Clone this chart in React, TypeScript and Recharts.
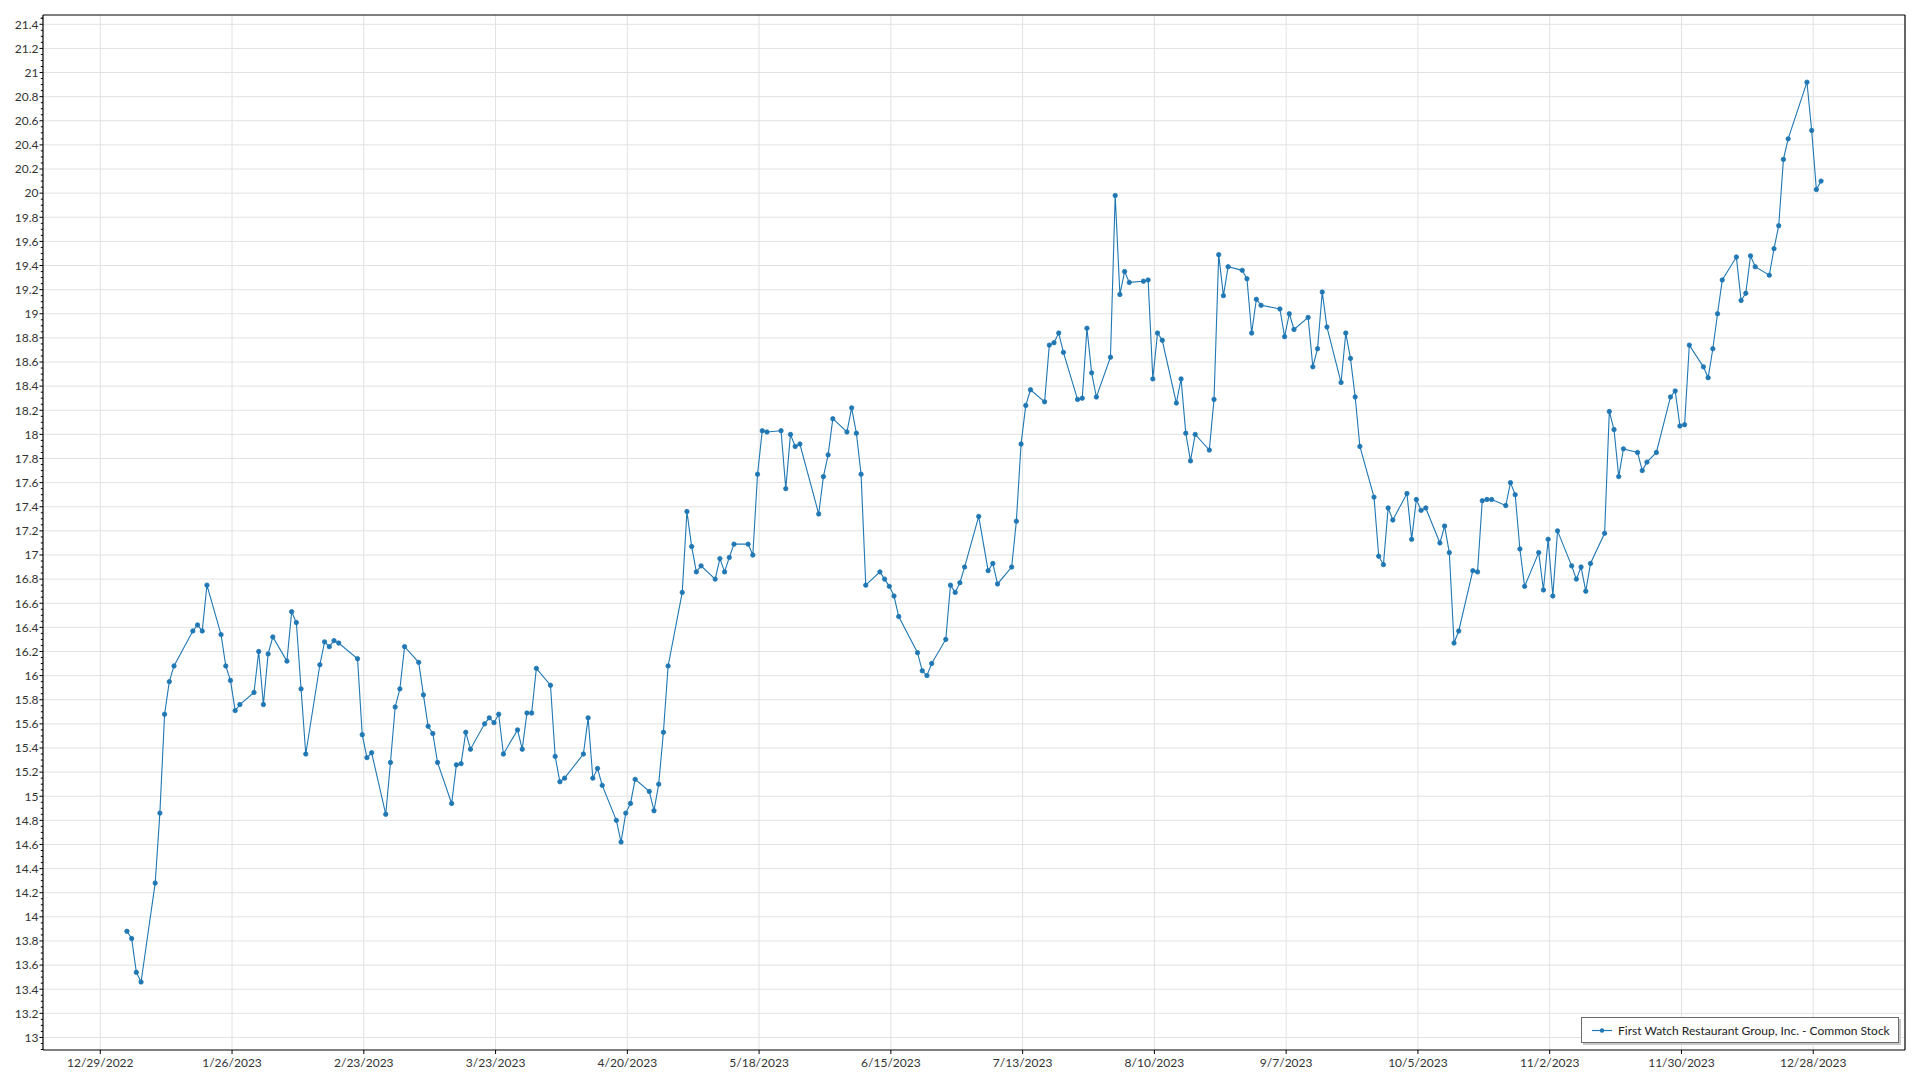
import React from "react";
import { LineChart, Line, XAxis, YAxis, CartesianGrid, ReferenceLine, Legend } from "recharts";

// ---- Data (daily close, 2023) ----
const q1Dates = [
  "01-03","01-04","01-05","01-06","01-09","01-10","01-11","01-12","01-13","01-17","01-18","01-19","01-20",
  "01-23","01-24","01-25","01-26","01-27","01-30","01-31","02-01","02-02","02-03","02-06","02-07","02-08",
  "02-09","02-10","02-13","02-14","02-15","02-16","02-17","02-21","02-22","02-23","02-24","02-27","02-28",
  "03-01","03-02","03-03","03-06","03-07","03-08","03-09","03-10","03-13","03-14","03-15","03-16","03-17",
  "03-20","03-21","03-22","03-23","03-24","03-27","03-28","03-29","03-30","03-31",
];
const q1Closes = [
  13.88,13.82,13.54,13.46,14.28,14.86,15.68,15.95,16.08,16.37,16.42,16.37,16.75,
  16.34,16.08,15.96,15.71,15.76,15.86,16.20,15.76,16.18,16.32,16.12,16.53,16.44,
  15.89,15.35,16.09,16.28,16.24,16.29,16.27,16.14,15.51,15.32,15.36,14.85,15.28,
  15.74,15.89,16.24,16.11,15.84,15.58,15.52,15.28,14.94,15.26,15.27,15.53,15.39,
  15.60,15.65,15.61,15.68,15.35,15.55,15.39,15.69,15.69,16.06,
];
const q2Dates = [
  "04-03","04-04","04-05","04-06","04-10","04-11","04-12","04-13","04-14","04-17","04-18","04-19","04-20",
  "04-21","04-24","04-25","04-26","04-27","04-28","05-01","05-02","05-03","05-04","05-05","05-08","05-09",
  "05-10","05-11","05-12","05-15","05-16","05-17","05-18","05-19","05-22","05-23","05-24","05-25","05-26",
  "05-30","05-31","06-01","06-02","06-05","06-06","06-07","06-08","06-09","06-12","06-13","06-14","06-15",
  "06-16","06-20","06-21","06-22","06-23","06-26","06-27","06-28","06-29","06-30",
];
const q2Closes = [
  15.92,15.33,15.12,15.15,15.35,15.65,15.15,15.23,15.09,14.80,14.62,14.86,14.94,
  15.14,15.04,14.88,15.10,15.53,16.08,16.69,17.36,17.07,16.86,16.91,16.80,16.97,
  16.86,16.98,17.09,17.09,17.00,17.67,18.03,18.02,18.03,17.55,18.00,17.90,17.92,
  17.34,17.65,17.83,18.13,18.02,18.22,18.01,17.67,16.75,16.86,16.80,16.74,16.66,
  16.49,16.19,16.04,16.00,16.10,16.30,16.75,16.69,16.77,16.90,
];
const q3Dates = [
  "07-03","07-05","07-06","07-07","07-10","07-11","07-12","07-13","07-14","07-17","07-18","07-19","07-20",
  "07-21","07-24","07-25","07-26","07-27","07-28","07-31","08-01","08-02","08-03","08-04","08-07","08-08",
  "08-09","08-10","08-11","08-14","08-15","08-16","08-17","08-18","08-21","08-22","08-23","08-24","08-25",
  "08-28","08-29","08-30","08-31","09-01","09-05","09-06","09-07","09-08","09-11","09-12","09-13","09-14",
  "09-15","09-18","09-19","09-20","09-21","09-22","09-25","09-26","09-27","09-28","09-29",
];
const q3Closes = [
  17.32,16.87,16.93,16.76,16.90,17.28,17.92,18.24,18.37,18.27,18.74,18.76,18.84,
  18.68,18.29,18.30,18.88,18.51,18.31,18.64,19.98,19.16,19.35,19.26,19.27,19.28,
  18.46,18.84,18.78,18.26,18.46,18.01,17.78,18.00,17.87,18.29,19.49,19.15,19.39,
  19.36,19.29,18.84,19.12,19.07,19.04,18.81,19.00,18.87,18.97,18.56,18.71,19.18,
  18.89,18.43,18.84,18.63,18.31,17.90,17.48,16.99,16.92,17.39,17.29,
];
const q4Dates = [
  "10-02","10-03","10-04","10-05","10-06","10-09","10-10","10-11","10-12","10-13","10-16","10-17","10-18",
  "10-19","10-20","10-23","10-24","10-25","10-26","10-27","10-30","10-31","11-01","11-02","11-03","11-06",
  "11-07","11-08","11-09","11-10","11-13","11-14","11-15","11-16","11-17","11-20","11-21","11-22","11-24",
  "11-27","11-28","11-29","11-30","12-01","12-04","12-05","12-06","12-07","12-08","12-11","12-12","12-13",
  "12-14","12-15","12-18","12-19","12-20","12-21","12-22","12-26","12-27","12-28","12-29",
];
const q4Closes = [
  17.51,17.13,17.46,17.37,17.39,17.10,17.24,17.02,16.27,16.37,16.87,16.86,17.45,
  17.46,17.46,17.41,17.60,17.50,17.05,16.74,17.02,16.71,17.13,16.66,17.20,16.91,
  16.80,16.90,16.70,16.93,17.18,18.19,18.04,17.65,17.88,17.85,17.70,17.77,17.85,
  18.31,18.36,18.07,18.08,18.74,18.56,18.47,18.71,19.00,19.28,19.47,19.11,19.17,
  19.48,19.39,19.32,19.54,19.73,20.28,20.45,20.92,20.52,20.03,20.10,
];

const xTickDates = [
  "2022-12-29","2023-01-26","2023-02-23","2023-03-23","2023-04-20","2023-05-18","2023-06-15",
  "2023-07-13","2023-08-10","2023-09-07","2023-10-05","2023-11-02","2023-11-30","2023-12-28",
];
const yMajorTicks = [
  13,13.2,13.4,13.6,13.8,14,14.2,14.4,14.6,14.8,15,15.2,15.4,15.6,15.8,16,16.2,16.4,16.6,16.8,17,
  17.2,17.4,17.6,17.8,18,18.2,18.4,18.6,18.8,19,19.2,19.4,19.6,19.8,20,20.2,20.4,20.6,20.8,21,21.2,21.4,
];
const SERIES_NAME = "First Watch Restaurant Group, Inc. - Common Stock";

// ---- Chart setup ----
const DAY = 86400000;
const CLOSE_HOUR = 16; // quotes stamped at market close
const toTime = (iso: string) => {
  const [y, m, d] = iso.split("-").map(Number);
  return Date.UTC(y, m - 1, d);
};
const BASE = toTime("2022-12-29");
const X_MIN = BASE - 12.17 * DAY;
const X_MAX = BASE + 383.5 * DAY;
const Y_MIN = 12.896;
const Y_MAX = 21.477;

const buildRows = (dates: string[], closes: number[]) =>
  dates.map((d, i) => ({ t: toTime("2023-" + d) + CLOSE_HOUR * 3600000, close: closes[i] }));

const data = [
  ...buildRows(q1Dates, q1Closes),
  ...buildRows(q2Dates, q2Closes),
  ...buildRows(q3Dates, q3Closes),
  ...buildRows(q4Dates, q4Closes),
];

const xTicks = xTickDates.map(toTime);
const yMinorTicks: number[] = [];
yMajorTicks.forEach((v) => {
  [-0.1, -0.05, 0, 0.05].forEach((o) => {
    const val = Math.round((v + o) * 100) / 100;
    if (val >= Y_MIN && val <= Y_MAX && !yMinorTicks.includes(val)) yMinorTicks.push(val);
  });
});
[21.45].forEach((v) => { if (v <= Y_MAX) yMinorTicks.push(v); });

const FONT = "'Segoe UI', Lato, 'Noto Sans', sans-serif";
const COLOR = "#1f77b4";

const fmtDate = (t: number) => {
  const d = new Date(t);
  return `${d.getUTCMonth() + 1}/${d.getUTCDate()}/${d.getUTCFullYear()}`;
};

const YTick = (props: any) => {
  const { x, y, payload } = props;
  const v: number = payload.value;
  const isMajor = yMajorTicks.some((m) => Math.abs(m - v) < 1e-6);
  return (
    <g>
      <line x1={x - (isMajor ? 3.5 : 2.2)} x2={x} y1={y} y2={y} stroke="#000" strokeWidth={1} />
      {isMajor && (
        <text x={x - 4.5} y={y} dy="0.36em" textAnchor="end" fontSize={12} fontFamily={FONT} fill="#333">
          {String(Number(v.toFixed(1)))}
        </text>
      )}
    </g>
  );
};

const LegendBox = () => (
  <div
    style={{
      width: 316,
      height: 24,
      border: "1px solid #6b6b6b",
      background: "#fff",
      boxShadow: "2px 2px 0 #c8c8c8",
      display: "flex",
      alignItems: "center",
      fontFamily: FONT,
      fontSize: 12,
      color: "#222",
      boxSizing: "content-box",
    }}
  >
    <svg width={36} height={24} style={{ flex: "none" }}>
      <line x1={10} x2={30} y1={12.5} y2={12.5} stroke={COLOR} strokeWidth={1.2} />
      <circle cx={20} cy={12.5} r={2.2} fill={COLOR} />
    </svg>
    <span style={{ whiteSpace: "nowrap" }}>{SERIES_NAME}</span>
  </div>
);

export default function App() {
  return (
    <div style={{ position: "fixed", left: 0, top: 0, width: 1920, height: 1080, background: "#fff" }}>
      <LineChart width={1920} height={1080} data={data} margin={{ top: 15, right: 15, bottom: 0, left: 0 }}>
        <CartesianGrid
          stroke="#e2e2e2"
          strokeWidth={1}
          horizontalValues={yMajorTicks}
          verticalValues={xTicks}
        />
        <XAxis
          dataKey="t"
          type="number"
          domain={[X_MIN, X_MAX]}
          allowDataOverflow
          ticks={xTicks}
          interval={0}
          tickFormatter={fmtDate}
          height={30}
          tickSize={4}
          tickMargin={4}
          axisLine={{ stroke: "#000", strokeWidth: 1.2 }}
          tickLine={{ stroke: "#000" }}
          tick={{ fontSize: 12, fontFamily: FONT, fill: "#333" }}
        />
        <YAxis
          type="number"
          domain={[Y_MIN, Y_MAX]}
          allowDataOverflow
          ticks={yMinorTicks}
          interval={0}
          width={43}
          tickSize={0}
          tickMargin={0}
          tickLine={false}
          axisLine={{ stroke: "#000", strokeWidth: 1.2 }}
          tick={<YTick />}
        />
        <ReferenceLine y={Y_MAX} stroke="#000" strokeWidth={1.2} ifOverflow="extendDomain" />
        <ReferenceLine x={X_MAX} stroke="#000" strokeWidth={1.2} ifOverflow="extendDomain" />
        <Legend
          layout="horizontal"
          verticalAlign="middle"
          align="center"
          content={() => <LegendBox />}
          wrapperStyle={{ left: 1581, top: 1017, width: 320, height: 28 }}
        />
        <Line
          type="linear"
          dataKey="close"
          name={SERIES_NAME}
          stroke={COLOR}
          strokeWidth={1.1}
          dot={{ r: 2.2, fill: COLOR, stroke: COLOR, strokeWidth: 0.8 }}
          activeDot={false}
          isAnimationActive={false}
        />
      </LineChart>
    </div>
  );
}
